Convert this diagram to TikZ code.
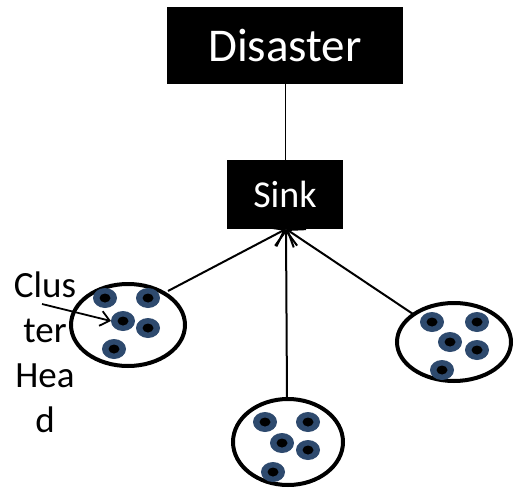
\documentclass[tikz,border=0pt]{standalone}
\usepackage{fontspec}
\setmainfont{Carlito}
\usetikzlibrary{arrows.meta}
\definecolor{nodeblue}{HTML}{2E4A6E}
\tikzset{
  blackbox/.style={fill=black, text=white, inner sep=0pt},
  ring/.style={line width=4pt},
  link/.style={line width=2pt, -{Straight Barb[length=15pt,width=22pt,line width=2pt]}},
}
\newcommand{\sensor}[2]{%
  \fill[nodeblue] (#1,#2) ellipse [x radius=12, y radius=10];
  \fill[black] (#1,#2) ellipse [x radius=5.5, y radius=4.5];}
\begin{document}
\begin{tikzpicture}[x=1pt, y=-1pt]
\useasboundingbox (0,0) rectangle (514,490);
% boxes
\node[blackbox, minimum width=236pt, minimum height=77pt, font=\fontsize{47}{50}\selectfont] (disaster) at (285,45.5) {Disaster};
\node[blackbox, minimum width=116pt, minimum height=69pt, font=\fontsize{38}{42}\selectfont] (sink) at (285,194.5) {Sink};
\coordinate (hub) at (286,229);
% clusters
\draw[ring] (128,325) ellipse [x radius=57, y radius=41];
\draw[ring] (454,342) ellipse [x radius=57, y radius=39];
\draw[ring] (288,442) ellipse [x radius=55, y radius=43];
\coordinate (cl) at (168,291);
\coordinate (cr) at (413,314);
\coordinate (cb) at (287,399);
% sensors
\sensor{105}{298}\sensor{148}{298}\sensor{123}{321}\sensor{148}{328}\sensor{114}{349}
\sensor{432}{322}\sensor{477}{322}\sensor{450}{342}\sensor{477}{350}\sensor{442}{370}
\sensor{265}{422}\sensor{308}{422}\sensor{282}{443}\sensor{308}{450}\sensor{273}{472}
% connectors
\draw[line width=1pt] (disaster.south) -- (sink.north);
\draw[link] (cl) -- (hub);
\draw[link] (cr) -- (hub);
\draw[link] (cb) -- (hub);
% label
\node[align=center, font=\fontsize{37}{45}\selectfont, inner sep=0pt, anchor=north] (lbl) at (45,272) {Clus\\ter\\Hea\\d};
\coordinate (lblarrow) at (42,304);
\coordinate (head) at (111,321);
\draw[line width=1.8pt, -{Straight Barb[length=9pt,width=15pt,line width=1.8pt]}] (lblarrow) -- (head);
\end{tikzpicture}
\end{document}
